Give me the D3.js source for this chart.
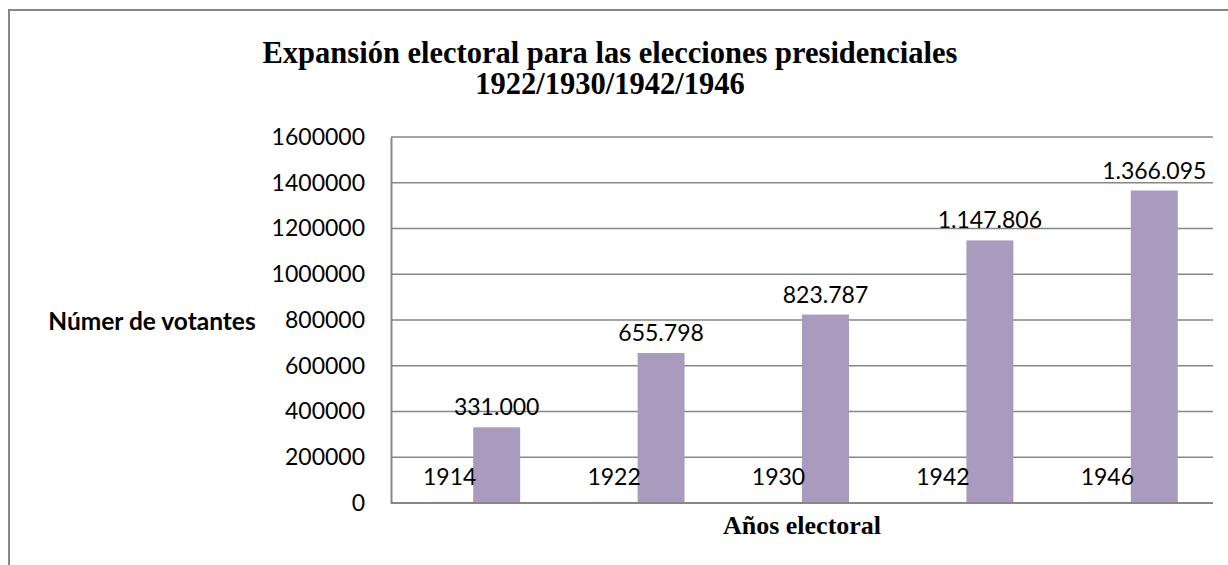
<!DOCTYPE html>
<html><head><meta charset="utf-8">
<script src="https://cdn.jsdelivr.net/npm/d3@7"></script>
<style>html,body{margin:0;padding:0;background:#fff;overflow:hidden}</style>
</head><body>
<svg id="c" width="1228" height="565"></svg>
<script>
const categories = ["1914", "1922", "1930", "1942", "1946"];
const yearSeries = [1914, 1922, 1930, 1942, 1946];
const voterSeries = [331000, 655798, 823787, 1147806, 1366095];
const yTicks = [0, 200000, 400000, 600000, 800000, 1000000, 1200000, 1400000, 1600000];
const titleLines = ["Expansión electoral para las elecciones presidenciales", "1922/1930/1942/1946"];
const yTitle = "Númer de votantes";
const xTitle = "Años electoral";

(function () {
const svg = d3.select("#c");
const gridColor = "#878787";
const barColor = "#A99BBE";
const bar1Color = "#8064A2";
const sans = "Lato, 'Open Sans', sans-serif";
const serif = "'Liberation Serif', 'Times New Roman', serif";

// outer frame
svg.append("rect").attr("x", 9).attr("y", 10).attr("width", 1260).attr("height", 600)
  .attr("fill", "none").attr("stroke", gridColor).attr("stroke-width", 2);

const pLeft = 391, pRight = 1213, pTop = 137, pBottom = 503;
const x = d3.scaleBand().domain(categories).range([pLeft, pRight]).paddingInner(0).paddingOuter(0);
const y = d3.scaleLinear().domain([0, 1600000]).range([pBottom, pTop]);
const barW = x.bandwidth() / 3.5;

// gridlines
svg.append("g").selectAll("line").data(yTicks).join("line")
  .attr("x1", pLeft).attr("x2", pRight)
  .attr("y1", d => y(d)).attr("y2", d => y(d))
  .attr("stroke", gridColor).attr("stroke-width", 1.6);

// y axis
const yAxis = d3.axisLeft(y).tickValues(yTicks).tickSize(0).tickPadding(26).tickFormat(d3.format("d"));
const ga = svg.append("g").attr("transform", `translate(${pLeft},0)`).call(yAxis);
ga.select(".domain").attr("stroke", gridColor).attr("stroke-width", 2);
ga.selectAll("text").attr("font-family", sans).attr("font-size", 23).attr("fill", "#000");

// bars series 1 (years, tiny)
svg.append("g").selectAll("rect").data(yearSeries).join("rect")
  .attr("x", (d, i) => x(categories[i]) + x.bandwidth() / 2 - barW)
  .attr("width", barW)
  .attr("y", d => y(d) - 0.6)
  .attr("height", d => pBottom - y(d) + 0.6)
  .attr("fill", bar1Color);

// bars series 2
svg.append("g").selectAll("rect").data(voterSeries).join("rect")
  .attr("x", (d, i) => x(categories[i]) + x.bandwidth() / 2)
  .attr("width", barW)
  .attr("y", d => y(d))
  .attr("height", d => pBottom - y(d))
  .attr("fill", barColor);

// baseline
svg.append("line").attr("x1", pLeft).attr("x2", pRight).attr("y1", pBottom).attr("y2", pBottom)
  .attr("stroke", gridColor).attr("stroke-width", 2);

// labels series 1
svg.append("g").selectAll("text").data(yearSeries).join("text")
  .attr("x", (d, i) => x(categories[i]) + x.bandwidth() / 2 - barW / 2)
  .attr("y", d => y(d) - 18)
  .attr("text-anchor", "middle").attr("font-family", sans).attr("font-size", 23)
  .text(d => String(d));

// labels series 2
const fmt = d => d3.format(",")(d).replace(/,/g, ".");
svg.append("g").selectAll("text").data(voterSeries).join("text")
  .attr("x", (d, i) => x(categories[i]) + x.bandwidth() / 2 + barW / 2)
  .attr("y", d => y(d) - 12)
  .attr("text-anchor", "middle").attr("font-family", sans).attr("font-size", 23)
  .text(fmt);

// title
svg.append("g").selectAll("text").data(titleLines).join("text")
  .attr("x", 610).attr("y", (d, i) => 63 + i * 31)
  .attr("text-anchor", "middle").attr("font-family", serif).attr("font-weight", "bold")
  .attr("font-size", 30.5).text(d => d);

// axis titles
svg.append("text").attr("x", 152).attr("y", 330).attr("text-anchor", "middle")
  .attr("font-family", sans).attr("font-weight", "bold").attr("font-size", 24.5).text(yTitle);
svg.append("text").attr("x", (pLeft + pRight) / 2).attr("y", 534).attr("text-anchor", "middle")
  .attr("font-family", serif).attr("font-weight", "bold").attr("font-size", 26).text(xTitle);
})();
</script>
</body></html>
